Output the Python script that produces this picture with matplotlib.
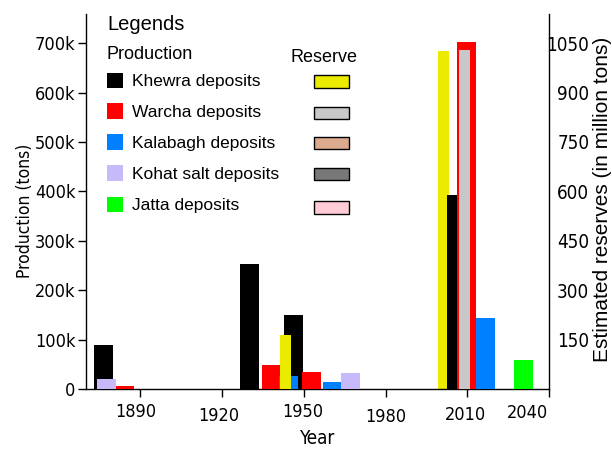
import matplotlib
matplotlib.use("Agg")
import matplotlib.pyplot as plt
from matplotlib import font_manager
from matplotlib.font_manager import FontProperties
from matplotlib.patches import Rectangle
from matplotlib.transforms import ScaledTranslation

REGULAR = ["Liberation Sans", "DejaVu Sans"]

# production (tons) by deposit
khewra_years = [1876.3, 1930.1, 1946.2, 2006.0]
khewra_prod = [89000, 253000, 150000, 392000]
warcha_years = [1884.3, 1938.0, 1952.8, 2009.6]
warcha_prod = [6000, 48500, 34000, 702000]
kalabagh_years = [1944.4, 1960.4, 2016.6]
kalabagh_prod = [26000, 14000, 144000]
kohat_years = [1877.6, 1967.1]
kohat_prod = [20000, 32000]
jatta_years = [2030.5]
jatta_prod = [59000]

# estimated reserves (million tons)
khewra_res_years = [1943.3, 2001.2]
khewra_res = [164, 1026]
warcha_res_years = [2008.9]
warcha_res = [1029]

xtick_years = [1890, 1920, 1950, 1980, 2010, 2040]
ytick_vals = [0, 100000, 200000, 300000, 400000, 500000, 600000, 700000]
ytick_labels = ["0", "100k", "200k", "300k", "400k", "500k", "600k", "700k"]
rtick_vals = [150, 300, 450, 600, 750, 900, 1050]

prod_names = ["Khewra deposits", "Warcha deposits", "Kalabagh deposits",
              "Kohat salt deposits", "Jatta deposits"]
prod_colors = ["#000000", "#ff0000", "#0080ff", "#c8b9fa", "#00ff00"]
res_colors = ["#ebeb00", "#c8c8c8", "#dcaa8c", "#787878", "#ffccd6"]


def narrow_font():
    # look for an installed narrow / condensed sans face
    prefs = ["Liberation Sans Narrow", "Arial Narrow", "DejaVu Sans",
             "Roboto Condensed", "Open Sans Condensed", "Noto Sans"]
    found = {}
    for f in font_manager.fontManager.ttflist:
        narrow = ("Narrow" in f.name or "Condensed" in f.name
                  or "ondensed" in str(f.stretch) or "Condensed" in f.fname
                  or "Narrow" in f.fname)
        if not narrow or f.style != "normal":
            continue
        if f.weight not in (400, "normal", "regular", "book"):
            continue
        found.setdefault(f.name, f.fname)
    for p in prefs:
        if p in found:
            return found[p]
    return next(iter(found.values()), None)


NARROW_FILE = narrow_font()


def nfp(size):
    if NARROW_FILE:
        return FontProperties(fname=NARROW_FILE, size=size)
    # no narrow face: shrink the regular one so widths stay close
    return FontProperties(family=REGULAR, size=size * 0.85)


W = 612
H = 449
fig = plt.figure(figsize=(W / 100, H / 100), dpi=100)
ax = fig.add_axes([86 / W, 1 - 389 / H, 463 / W, 375 / H])

to_res = lambda y: y * 1.5 / 1000
from_res = lambda r: r * 1000 / 1.5

ax.bar(khewra_years, khewra_prod, width=7, color=prod_colors[0], zorder=2)
ax.bar(warcha_years, warcha_prod, width=7, color=prod_colors[1], zorder=3)
ax.bar(kalabagh_years, kalabagh_prod, width=7, color=prod_colors[2], zorder=3)
ax.bar(kohat_years, kohat_prod, width=7, color=prod_colors[3], zorder=3)
ax.bar(jatta_years, jatta_prod, width=7, color=prod_colors[4], zorder=3)

kr = ax.bar(khewra_res_years, [from_res(v) for v in khewra_res], width=4,
            color=res_colors[0], zorder=4)
kr[1].set_zorder(1)
ax.bar(warcha_res_years, [from_res(v) for v in warcha_res], width=4,
       color=res_colors[1], zorder=4)

ax.set_xlim(1870, 2040)
ax.set_ylim(0, 759000)
ax.set_xticks(xtick_years)
ax.set_xticklabels([str(y) for y in xtick_years])
ax.set_yticks(ytick_vals)
ax.set_yticklabels(ytick_labels)
for s in ["top", "right"]:
    ax.spines[s].set_visible(False)
for s in ["left", "bottom"]:
    ax.spines[s].set_linewidth(1.0)
ax.tick_params(axis="both", direction="out", length=6, width=1.0)
ax.tick_params(axis="x", pad=4)
ax.tick_params(axis="y", pad=1.5)
for lab in ax.get_xticklabels() + ax.get_yticklabels():
    lab.set_fontproperties(nfp(13))

sec = ax.secondary_yaxis("right", functions=(to_res, from_res))
sec.set_yticks(rtick_vals)
sec.set_yticklabels([str(v) for v in rtick_vals])
sec.tick_params(length=0, pad=29)
sec.spines["right"].set_linewidth(1.0)
for lab in sec.get_yticklabels():
    lab.set_fontproperties(nfp(13.5))
    lab.set_horizontalalignment("right")

ax.set_xlabel("Year", fontproperties=nfp(13.5))
ax.xaxis.set_label_coords(0.5, (389 - 429) / 375)
ax.set_ylabel("Production (tons)", fontproperties=nfp(12.5))
ax.yaxis.set_label_coords((34 - 86) / 463, (389 - 211) / 375)
fig.text(603 / W, 1 - 199 / H, "Estimated reserves (in million tons)",
         fontsize=15, fontfamily=REGULAR, rotation=90, ha="center", va="center")

# hand-placed offsets of the year labels (pixels)
x_off = [(-5, 0), (-3, 4), (-1, 0), (0, 5), (-2, 3), (-22, 1)]
for lab, (dx, dy) in zip(ax.get_xticklabels(), x_off):
    lab.set_transform(lab.get_transform()
                      + ScaledTranslation(dx / 100, -dy / 100, fig.dpi_scale_trans))

# legend drawn by hand
fx = lambda px: px / W
fy = lambda py: 1 - py / H
fig.text(fx(107), fy(30), "Legends", fontsize=14.5, fontfamily=REGULAR, va="baseline")
fig.text(fx(107), fy(59), "Production", fontsize=13, fontfamily=REGULAR, va="baseline")
fig.text(fx(290), fy(61.5), "Reserve", fontsize=13, fontfamily=REGULAR, va="baseline")
sq_tops = [72.7, 103.3, 134.3, 165, 196.7]
res_tops = [75, 106.7, 136.7, 167.7, 201]
for name, pc, rc, st, rt in zip(prod_names, prod_colors, res_colors, sq_tops, res_tops):
    fig.patches.append(Rectangle((fx(107.3), fy(st + 15.5)), 15.5 / W, 15.5 / H,
                                 transform=fig.transFigure, color=pc, lw=0))
    fig.text(fx(132.3), fy(st + 13.5), name, fontsize=12.5, fontfamily=REGULAR,
             va="baseline")
    fig.patches.append(Rectangle((fx(314), fy(rt + 12.5)), 34.5 / W, 12.5 / H,
                                 transform=fig.transFigure, facecolor=rc,
                                 edgecolor="black", lw=1.0))

fig.savefig("out.png", dpi=100)
